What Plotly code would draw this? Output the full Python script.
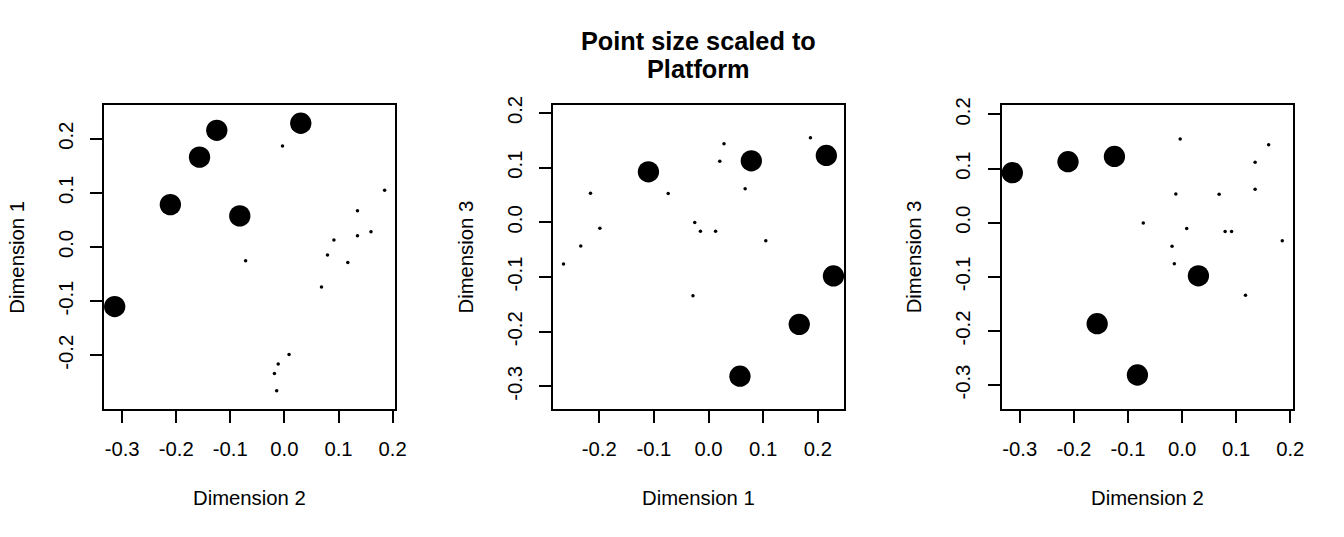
import plotly.graph_objects as go

# ---- data ----
dim1 = [-0.110, 0.0783, 0.1660, 0.2156, 0.0575, 0.2286,
        0.1865, 0.1048, 0.0670, 0.0129, 0.0206, 0.0283, -0.0148,
        -0.0285, -0.0252, -0.0738, -0.1988, -0.2160, -0.2338, -0.2654]
dim2 = [-0.3137, -0.2108, -0.1569, -0.1250, -0.0825, 0.0302,
        -0.0035, 0.1852, 0.1350, 0.0915, 0.1350, 0.1600, 0.0796,
        0.1172, -0.0717, 0.0685, 0.0086, -0.0115, -0.0185, -0.0143]
dim3 = [0.0925, 0.1127, -0.1865, 0.1225, -0.2813, -0.0980,
        0.1548, -0.0335, 0.0617, -0.0163, 0.1118, 0.1440, -0.0163,
        -0.1342, -0.0003, 0.0528, -0.0105, 0.0531, -0.0433, -0.0759]
platform = [1, 1, 1, 1, 1, 1,
            0, 0, 0, 0, 0, 0, 0, 0, 0, 0, 0, 0, 0, 0]

tick_vals = [-0.3, -0.2, -0.1, 0.0, 0.1, 0.2]
tick_text = [f"{v:.1f}" for v in tick_vals]

title_lines = ["Point size scaled to", "Platform"]
panels = [
    (dim2, dim1, "Dimension 2", "Dimension 1"),
    (dim1, dim3, "Dimension 1", "Dimension 3"),
    (dim2, dim3, "Dimension 2", "Dimension 3"),
]

# ---- layout / style ----
W, H = 1344, 537
FONT = "Liberation Sans, Arial, Helvetica, sans-serif"

# target pixel positions (as seen in the reference picture)
box_left_t = [104, 552, 1000]
box_w_t, box_top_t, box_bot_t = 291, 103.3, 407.3
box_h_t = box_bot_t - box_top_t

# compensation for the capture's slight scaling
SX, OX = 0.99, 0.3
SY, OY = 0.981, 7.9


def ux(x):
    return (x - OX) / SX


def vy(y):
    return (y - OY) / SY


sizes = [21.3 if p else 3.5 for p in platform]


def r_range(v):
    lo, hi = min(v), max(v)
    pad = 0.04 * (hi - lo)
    return lo - pad, hi + pad


def asp_ranges(xv, yv):
    x0, x1 = r_range(xv)
    y0, y1 = r_range(yv)
    s = max((x1 - x0) / box_w_t, (y1 - y0) / box_h_t)
    xc, yc = (x0 + x1) / 2, (y0 + y1) / 2
    return ([xc - s * box_w_t / 2, xc + s * box_w_t / 2],
            [yc - s * box_h_t / 2, yc + s * box_h_t / 2])


fig = go.Figure()
annotations = []
for i, (xv, yv, xt, yt) in enumerate(panels):
    n = "" if i == 0 else str(i + 1)
    fig.add_trace(go.Scatter(
        x=xv, y=yv, mode="markers", xaxis="x" + n, yaxis="y" + n,
        marker=dict(size=sizes, color="black", opacity=1,
                    line=dict(width=0)),
        showlegend=False, hoverinfo="skip"))
    xr, yr = asp_ranges(xv, yv)
    xdom = [ux(box_left_t[i]) / W, ux(box_left_t[i] + box_w_t) / W]
    ydom = [1 - vy(box_bot_t) / H, 1 - vy(box_top_t) / H]
    axcommon = dict(
        showgrid=False, zeroline=False, showline=True, linecolor="black",
        linewidth=2, mirror=True, ticks="outside", ticklen=12, tickwidth=2,
        tickcolor="black", tickvals=tick_vals, ticktext=tick_text,
        tickfont=dict(family=FONT, size=20.3, color="black"),
    )
    fig.update_layout({
        "xaxis" + n: dict(axcommon, domain=xdom, range=xr, anchor="y" + n,
                          ticklabelstandoff=8),
        "yaxis" + n: dict(axcommon, domain=ydom, range=yr, anchor="x" + n,
                          tickangle=-90, ticklabelstandoff=9),
    })
    cx = ux(box_left_t[i] + box_w_t / 2) / W
    annotations.append(dict(
        text=xt, x=cx, y=1 - vy(496) / H, xref="paper", yref="paper",
        xanchor="center", yanchor="middle", showarrow=False,
        font=dict(family=FONT, size=20.3, color="black")))
    annotations.append(dict(
        text=yt, x=ux(box_left_t[i] - 87) / W,
        y=1 - vy((box_top_t + box_bot_t) / 2) / H, xref="paper",
        yref="paper", xanchor="center", yanchor="middle", textangle=-90,
        showarrow=False, font=dict(family=FONT, size=20.3, color="black")))

title_y_t = [40, 67.7]
for t, yy in zip(title_lines, title_y_t):
    annotations.append(dict(
        text=f"<b>{t}</b>", x=ux(box_left_t[1] + box_w_t / 2) / W,
        y=1 - vy(yy) / H, xref="paper", yref="paper", xanchor="center",
        yanchor="middle", showarrow=False,
        font=dict(family=FONT, size=25.3, color="black")))

fig.update_layout(
    width=W, height=H, margin=dict(l=0, r=0, t=0, b=0),
    paper_bgcolor="white", plot_bgcolor="white",
    annotations=annotations,
)

fig.write_html(
    "out.html",
    config={"displayModeBar": False, "staticPlot": True},
    post_script=(
        "document.documentElement.style.margin='0';"
        "document.documentElement.style.overflow='hidden';"
        "document.body.style.margin='0';document.body.style.padding='0';"
        "document.body.style.overflow='hidden';"
        "var gd=document.getElementById('{plot_id}');"
        "gd.style.position='fixed';gd.style.left='0px';gd.style.top='0px';"
    ),
)
